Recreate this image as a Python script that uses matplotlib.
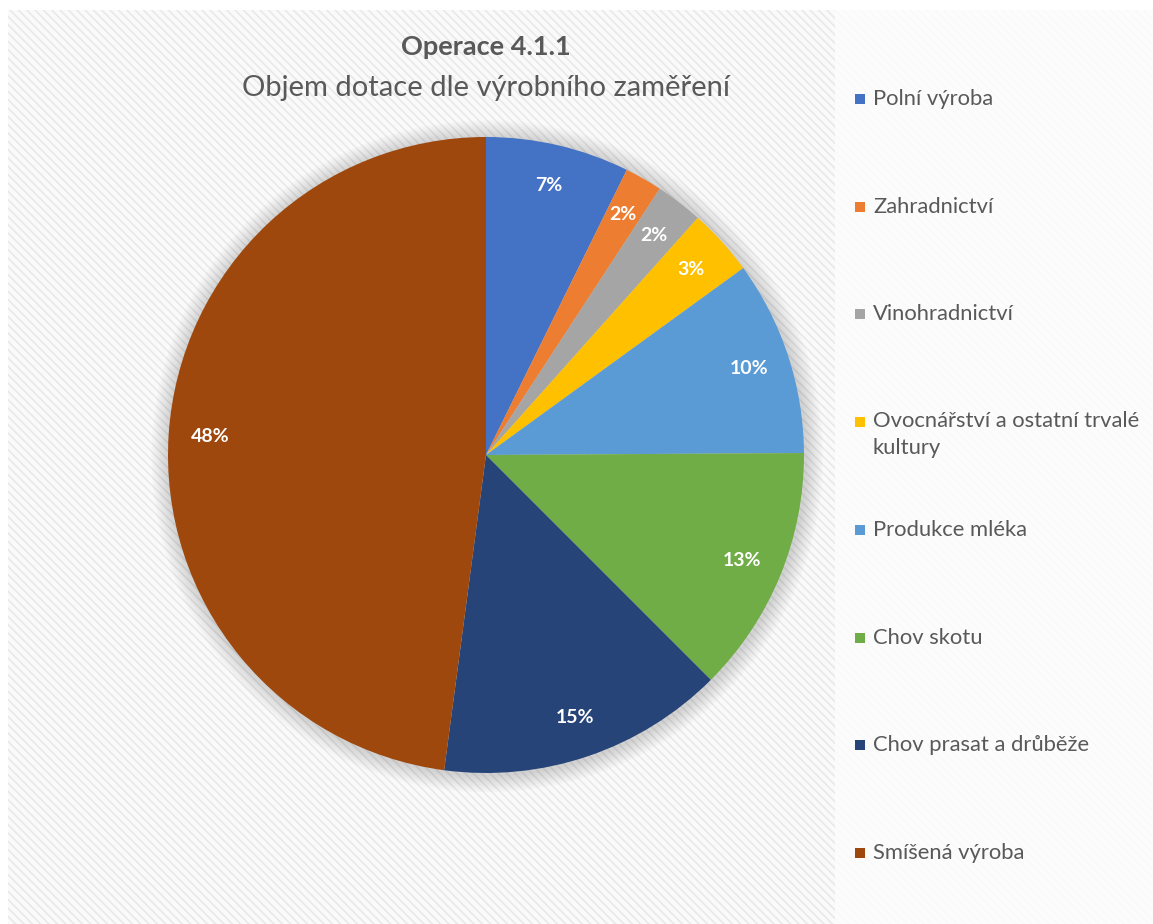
import matplotlib
matplotlib.use("Agg")
import matplotlib.pyplot as plt
from matplotlib.patches import Rectangle, Circle

plt.rcParams['font.family'] = ['Lato', 'DejaVu Sans']

# data (shares in %)
categories = ["Polní výroba", "Zahradnictví", "Vinohradnictví",
              "Ovocnářství a ostatní trvalé\nkultury", "Produkce mléka",
              "Chov skotu", "Chov prasat a drůběže", "Smíšená výroba"]
shares = [7.3, 1.9, 2.4, 3.4, 9.9, 12.6, 14.6, 47.9]
colors = ["#4472C4", "#ED7D31", "#A5A5A5", "#FFC000", "#5B9BD5",
          "#70AD47", "#264478", "#9E480E"]

W, H = 1153, 924
fig = plt.figure(figsize=(W / 100, H / 100), dpi=100)
fig.patch.set_facecolor("white")

# striped background panel
bg = fig.add_axes([8 / W, 0, 1 - 8 / W, 1 - 10 / H])
bg.set_xlim(0, 1)
bg.set_ylim(0, 1)
bg.axis("off")
plt.rcParams['hatch.color'] = "#e9e9e9"
plt.rcParams['hatch.linewidth'] = 1.2
bg.add_patch(Rectangle((0, 0), 1, 1, facecolor="#fafafa", edgecolor="#e9e9e9",
                       hatch="\\\\\\\\", linewidth=0, transform=bg.transAxes))
# legend panel is almost white
bg.add_patch(Rectangle(((835 - 8) / (W - 8), 0), 1, 1, facecolor="#fdfdfd",
                       edgecolor="none", alpha=0.85, transform=bg.transAxes))

# pie
cx, cy, r = 486, 455, 318
ax = fig.add_axes([(cx - r) / W, (H - cy - r) / H, 2 * r / W, 2 * r / H])
ax.axis("off")

# soft shadow around the pie
for k in range(8):
    ax.add_patch(Circle((0.004, -0.004), 1.0 + 0.007 * (k + 1), facecolor="#000000",
                        alpha=0.018, edgecolor="none", clip_on=False, zorder=0))

wedges, texts, autotexts = ax.pie(shares, colors=colors, startangle=90, counterclock=False,
                                  autopct="%.0f%%", pctdistance=0.87, radius=1,
                                  wedgeprops=dict(linewidth=0))
for t in autotexts:
    t.set_color("white")
    t.set_fontweight("bold")
    t.set_fontsize(14)
ax.set_xlim(-1, 1)
ax.set_ylim(-1, 1)
ax.set_aspect("equal")

# titles
fig.text(cx / W, 1 - 47 / H, "Operace 4.1.1", ha="center", va="center",
         fontsize=19.5, fontweight="bold", color="#595959")
fig.text(cx / W, 1 - 88 / H, "Objem dotace dle výrobního zaměření", ha="center", va="center",
         fontsize=21, color="#595959")

# legend
y0, step = 99, 107.7
for i, (name, col) in enumerate(zip(categories, colors)):
    y = y0 + i * step
    fig.patches.append(Rectangle((855 / W, 1 - (y + 5) / H), 10 / W, 10 / H,
                                 facecolor=col, edgecolor="none", transform=fig.transFigure))
    if "\n" in name:
        fig.text(873 / W, 1 - (y - 11) / H, name, ha="left", va="top",
                 fontsize=15.8, color="#595959", linespacing=1.45)
    else:
        fig.text(873 / W, 1 - y / H, name, ha="left", va="center",
                 fontsize=15.8, color="#595959")

fig.savefig("out.png", dpi=100)
